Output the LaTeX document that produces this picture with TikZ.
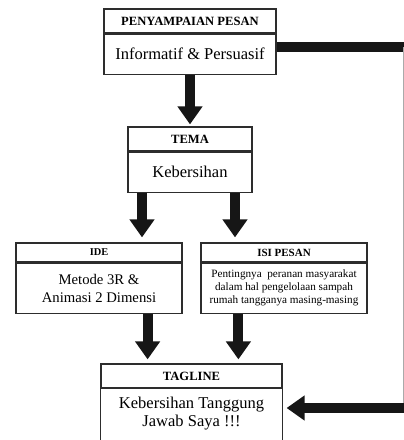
\documentclass[tikz,border=0pt]{standalone}
\usepackage{fontspec}
\setmainfont{Liberation Serif}
\usetikzlibrary{arrows.meta,positioning}
\definecolor{boxline}{RGB}{45,45,45}
\definecolor{flowblack}{RGB}{22,22,22}
\definecolor{railgray}{RGB}{170,170,170}
\tikzset{
  headbox/.style={draw=boxline, line width=1.2pt, inner sep=0pt, minimum height=24pt,
    font=\bfseries\fontsize{12.6}{14}\selectfont, align=center},
  bodybox/.style={draw=boxline, line width=1.2pt, inner sep=0pt, minimum height=40pt,
    font=\fontsize{16.5}{19}\selectfont, align=center},
  flow/.style={flowblack, line width=10pt, -{Triangle[width=24pt,length=18pt]}},
  feed/.style={flowblack, line width=10pt},
}
\begin{document}
\begin{tikzpicture}[x=1pt, y=-1pt]
    \useasboundingbox (0,0) rectangle (404,440);
    % kotak-kotak
    \node[headbox, minimum width=172pt] (sampai-head) at (190,21) {PENYAMPAIAN PESAN};
    \node[bodybox, minimum width=172pt, below=0pt of sampai-head] (sampai) {Informatif \& Persuasif};
    \node[headbox, minimum width=124pt] (tema-head) at (190,139) {TEMA};
    \node[bodybox, minimum width=124pt, below=0pt of tema-head] (tema) {Kebersihan};
    \node[headbox, minimum width=166pt, minimum height=19pt, font=\bfseries\fontsize{10.4}{12}\selectfont] (ide-head) at (99,252.5) {IDE};
    \node[bodybox, minimum width=166pt, minimum height=50pt, font=\fontsize{14.7}{18}\selectfont, below=0pt of ide-head] (ide) {Metode 3R \&\\Animasi 2 Dimensi};
    \node[headbox, minimum width=166pt, minimum height=19pt, font=\bfseries\fontsize{11}{12}\selectfont] (isi-head) at (284,252.5) {ISI PESAN};
    \node[bodybox, minimum width=166pt, minimum height=50pt, font=\fontsize{11.2}{13}\selectfont, below=0pt of isi-head] (isi) {Pentingnya~ peranan masyarakat\\dalam hal pengelolaan sampah\\rumah tangganya masing-masing};
    \node[headbox, minimum width=181pt] (tagline-head) at (191.5,376) {TAGLINE};
    \node[bodybox, draw=none, minimum width=181pt, minimum height=70pt, below=0pt of tagline-head] (tagline) {};
    \draw[boxline, line width=1.2pt] (tagline.south west) -- (tagline.north west) -- (tagline.north east) -- (tagline.south east);
    \node[font=\fontsize{16.5}{18.5}\selectfont, align=center] (tagline-text) at ([yshift=-25pt]tagline.north) {Kebersihan Tanggung\\Jawab Saya !!!};
    % panah
    \draw[flow] (sampai.south) -- ([yshift=2pt]tema-head.north);
    \draw[flow] ([xshift=-48pt]tema.south) -- ([xshift=-48pt,yshift=5pt]tema.south |- ide-head.north);
    \draw[flow] ([xshift=45pt]tema.south) -- ([xshift=45pt,yshift=5pt]tema.south |- isi-head.north);
    \draw[flow] ([xshift=-35pt]ide.south east) -- ([xshift=-35pt,yshift=4pt]ide.south east |- tagline-head.north);
    \draw[flow] ([xshift=38pt]isi.south west) -- ([xshift=38pt,yshift=4pt]isi.south west |- tagline-head.north);
    % jalur samping
    \coordinate (rail-top) at (403,47);
    \coordinate (rail-bot) at (403,408);
    \draw[feed] (rail-top -| sampai.east) -- ([xshift=8pt]rail-top);
    \draw[railgray, line width=1pt] (rail-top) -- (rail-bot);
    \draw[flow] ([xshift=8pt]rail-bot) -- ([xshift=4pt]rail-bot -| tagline.east);
\end{tikzpicture}
\end{document}
